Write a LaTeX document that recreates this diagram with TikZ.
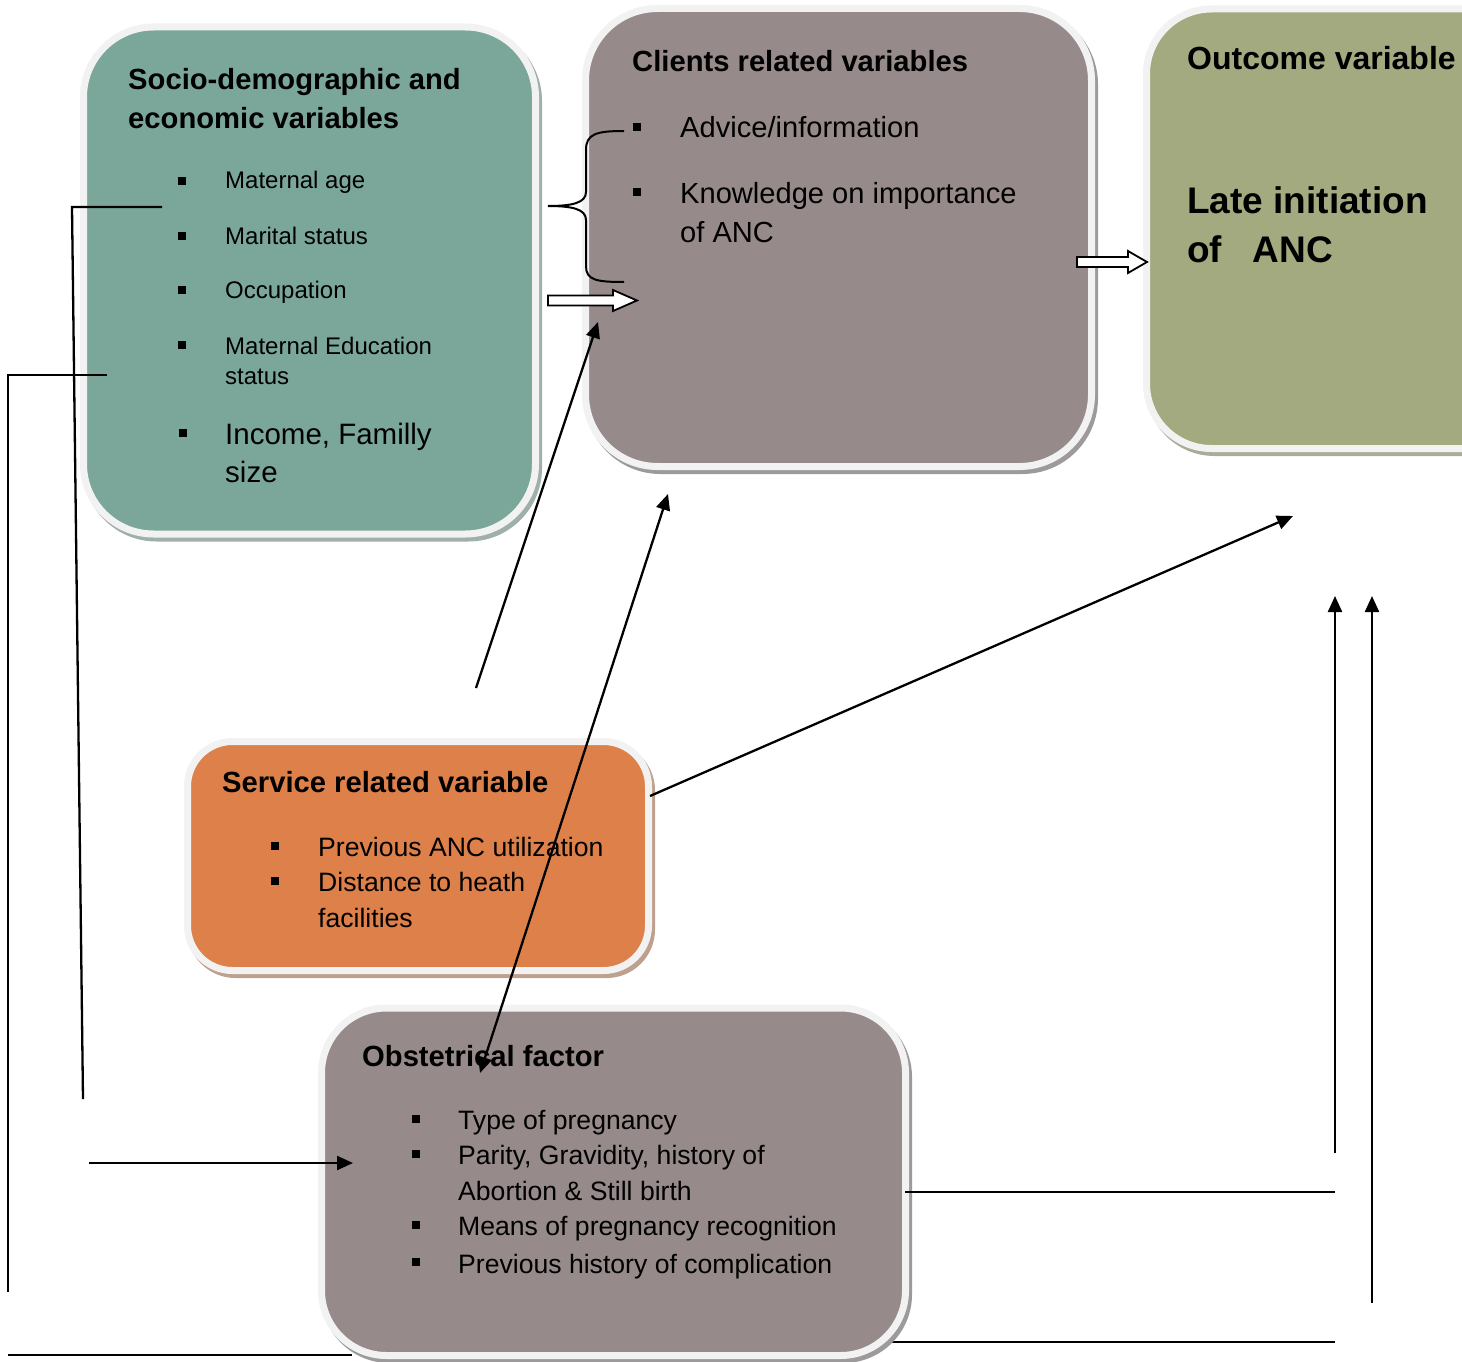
\documentclass[tikz,border=0pt]{standalone}
\usepackage{fontspec}
\setmainfont{Liberation Sans}
\usetikzlibrary{arrows.meta,shadows}
\definecolor{cTeal}{HTML}{7BA79B}
\definecolor{cGrey}{HTML}{968B8A}
\definecolor{cOlive}{HTML}{A3AA7F}
\definecolor{cOrange}{HTML}{DE8049}
\definecolor{cRing}{HTML}{F2F2F2}
\definecolor{cShTeal}{HTML}{9FB0AB}
\definecolor{cShGrey}{HTML}{9C9A9A}
\definecolor{cShOlive}{HTML}{A9AC98}
\definecolor{cShOrange}{HTML}{BFA08E}
\tikzset{
  boxbase/.style={rectangle, draw=cRing, line width=7pt, inner sep=0pt, outer sep=0pt},
  shad/.style={drop shadow={shadow xshift=3pt, shadow yshift=-4pt, fill=#1, draw=#1, line width=7pt, opacity=1}},
  ttl/.style={anchor=base west, inner sep=0pt, font=\fontsize{29.2}{35}\selectfont\bfseries},
  itemA/.style={anchor=base west, inner sep=0pt, font=\fontsize{24}{29}\selectfont},
  itemB/.style={anchor=base west, inner sep=0pt, font=\fontsize{29.1}{35}\selectfont},
  itemC/.style={anchor=base west, inner sep=0pt, font=\fontsize{26.6}{32}\selectfont},
  itemD/.style={anchor=base west, inner sep=0pt, font=\fontsize{29.5}{36}\selectfont},
  bul/.style={rectangle, fill=black, inner sep=0pt, minimum size=7.5pt},
  conn/.style={draw=black, line width=2.3pt},
  arr/.style={conn, -{Triangle[length=16pt,width=14pt]}},
  darr/.style={conn, {Triangle[length=16pt,width=14pt]}-{Triangle[length=16pt,width=14pt]}},
  hollow/.style={draw=black, fill=white, line width=1.8pt, line join=miter}
}
\begin{document}
\begin{tikzpicture}[x=1pt,y=-1pt]
\useasboundingbox (0,0) rectangle (1462,1362);
\clip (0,0) rectangle (1462,1362);
\fill[white] (0,0) rectangle (1462,1362);

% lines passing under boxes
\coordinate (bl1) at (8,1355);
\coordinate (bl2) at (352,1355);
\draw[conn] (bl1) -- (bl2);
\coordinate (br1) at (885,1342);
\coordinate (br2) at (1335,1342);
\draw[conn] (br1) -- (br2);

% boxes
\node[boxbase, shad=cShTeal, fill=cTeal, rounded corners=70pt, minimum width=452pt, minimum height=507pt] (socio) at (309.5,280.5) {};
\node[boxbase, shad=cShGrey, fill=cGrey, rounded corners=72pt, minimum width=506pt, minimum height=458pt] (client) at (838.5,237.5) {};
\node[boxbase, shad=cShOlive, fill=cOlive, rounded corners=65pt, minimum width=383.5pt, minimum height=439.5pt] (outcome) at (1338.25,228.75) {};
\node[boxbase, shad=cShOrange, fill=cOrange, rounded corners=45pt, minimum width=461pt, minimum height=229pt] (service) at (418,856) {};
\node[boxbase, shad=cShGrey, fill=cGrey, rounded corners=65pt, minimum width=584pt, minimum height=347.5pt] (obst) at (613.5,1181.75) {};

% socio texts
\node[ttl] (s1) at (128,90) {Socio-demographic and};
\node[ttl] (s2) at (128,129) {economic variables};
\node[bul] (sb1) at (182,181) {};
\node[itemA] (si1) at (225,189) {Maternal age};
\node[bul] (sb2) at (182,236) {};
\node[itemA] (si2) at (225,244) {Marital status};
\node[bul] (sb3) at (182,290) {};
\node[itemA] (si3) at (225,298) {Occupation};
\node[bul] (sb4) at (182,345) {};
\node[itemA] (si4) at (225,354) {Maternal Education};
\node[itemA] (si4b) at (225,384) {status};
\node[bul] (sb5) at (183,433) {};
\node[itemD] (si5) at (225,444) {Income, Familly};
\node[itemD] (si5b) at (225,482) {size};

% client texts
\node[ttl] (c1) at (632,72) {Clients related variables};
\node[bul] (cb1) at (637,127) {};
\node[itemB] (ci1) at (680,138) {Advice/information};
\node[bul] (cb2) at (637,192) {};
\node[itemB] (ci2) at (680,203) {Knowledge on importance};
\node[itemB] (ci2b) at (680,242) {of ANC};

% outcome texts
\node[anchor=base west, inner sep=0pt, font=\fontsize{32}{38}\selectfont\bfseries] (o1) at (1187,70) {Outcome variable};
\node[anchor=base west, inner sep=0pt, font=\fontsize{37}{44}\selectfont\bfseries] (o2) at (1187,213) {Late initiation};
\node[anchor=base west, inner sep=0pt, font=\fontsize{37}{44}\selectfont\bfseries] (o3) at (1187,262) {of\ \ \ ANC};

% service texts
\node[ttl] (v1) at (222,792) {Service related variable};
\node[bul] (vb1) at (275,846) {};
\node[itemC] (vi1) at (318,856) {Previous ANC utilization};
\node[bul] (vb2) at (275,881) {};
\node[itemC] (vi2) at (318,891) {Distance to heath};
\node[itemC] (vi2b) at (318,927) {facilities};

% obstetric texts
\node[ttl] (b1) at (362,1066) {Obstetrical factor};
\node[bul] (bb1) at (416,1119) {};
\node[itemC] (bi1) at (458,1129) {Type of pregnancy};
\node[bul] (bb2) at (416,1154) {};
\node[itemC] (bi2) at (458,1164) {Parity, Gravidity, history of};
\node[itemC] (bi2b) at (458,1200) {Abortion \& Still birth};
\node[bul] (bb3) at (416,1225) {};
\node[itemC] (bi3) at (458,1235) {Means of pregnancy recognition};
\node[bul] (bb4) at (416,1262) {};
\node[itemC] (bi4) at (458,1273) {Previous history of complication};

% brace
\draw[conn, line width=2pt] (624,131) .. controls (596,131) and (586,134) .. (586,150) -- (586,192)
  .. controls (586,203) and (572,206) .. (548,206) .. controls (572,206) and (586,209) .. (586,220)
  -- (586,266) .. controls (586,280) and (596,282) .. (624,282);

% hollow arrows
\draw[hollow] (548,295.5) -- (613,295.5) -- (613,290) -- (637,300.5) -- (613,311) -- (613,305.5) -- (548,305.5) -- cycle;
\draw[hollow] (1077,257) -- (1128,257) -- (1128,251) -- (1147,262) -- (1128,273) -- (1128,267) -- (1077,267) -- cycle;

% connectors
\coordinate (a1s) at (476,688);
\coordinate (a1e) at (598,322);
\draw[arr] (a1s) -- (a1e);
\coordinate (a2s) at (668,494);
\coordinate (a2e) at (480,1073);
\draw[darr] (a2e) -- (a2s);
\coordinate (a3s) at (650,796);
\coordinate (a3e) at (1293,516);
\draw[arr] (a3s) -- (a3e);
\coordinate (v1s) at (1335,1153);
\coordinate (v1e) at (1335,596);
\draw[arr] (v1s) -- (v1e);
\coordinate (v2s) at (1372,1303);
\coordinate (v2e) at (1372,596);
\draw[arr] (v2s) -- (v2e);
\coordinate (h1s) at (905,1192);
\coordinate (h1e) at (1335,1192);
\draw[conn] (h1s) -- (h1e);

% left lines
\coordinate (l1a) at (162,207);
\coordinate (l1b) at (72,207);
\coordinate (l1c) at (83,1099);
\draw[conn] (l1a) -- (l1b) -- (l1c);
\coordinate (l2a) at (107,375);
\coordinate (l2b) at (8,375);
\coordinate (l2c) at (8,1292);
\draw[conn] (l2a) -- (l2b) -- (l2c);
\coordinate (l3s) at (89,1163);
\coordinate (l3e) at (353,1163);
\draw[arr] (l3s) -- (l3e);
\end{tikzpicture}
\end{document}
